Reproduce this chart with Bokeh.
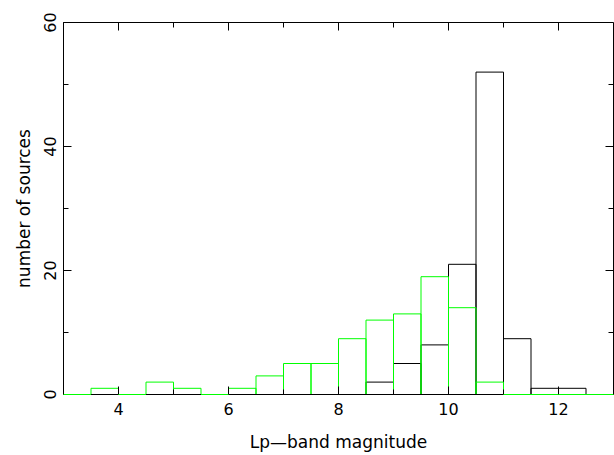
import math
from bokeh.plotting import figure
from bokeh.models import FixedTicker, Range1d, ColumnDataSource
from bokeh.embed import file_html
from bokeh.resources import INLINE

# Histogram data (bin width 0.5 mag)
bin_lo = [3.0, 3.5, 4.0, 4.5, 5.0, 5.5, 6.0, 6.5, 7.0, 7.5,
          8.0, 8.5, 9.0, 9.5, 10.0, 10.5, 11.0, 11.5, 12.0, 12.5]
bin_hi = [3.5, 4.0, 4.5, 5.0, 5.5, 6.0, 6.5, 7.0, 7.5, 8.0,
          8.5, 9.0, 9.5, 10.0, 10.5, 11.0, 11.5, 12.0, 12.5, 13.0]
black_counts = [0, 0, 0, 0, 0, 0, 0, 0, 0, 0,
                0, 2, 5, 8, 21, 52, 9, 1, 1, 0]
green_counts = [0, 1, 0, 2, 1, 0, 1, 3, 5, 5,
                9, 12, 13, 19, 14, 2, 0, 0, 0, 0]

x_lo, x_hi = 3, 13
y_lo, y_hi = 0, 60
x_major = [4, 6, 8, 10, 12]
x_minor = [3, 5, 7, 9, 11, 13]
y_major = [0, 20, 40, 60]
y_minor = [10, 30, 50]

FONT = "DejaVu Sans"
GREEN = "#00ff00"

p = figure(width=614, height=455, x_range=Range1d(x_lo, x_hi), y_range=Range1d(y_lo, y_hi),
           output_backend="svg", toolbar_location=None,
           min_border_left=63, min_border_right=1, min_border_top=22, min_border_bottom=61)
p.xgrid.visible = False
p.ygrid.visible = False
p.outline_line_color = "black"
p.outline_line_width = 1
p.background_fill_color = "white"
p.border_fill_color = "white"

xt = FixedTicker(ticks=x_major, minor_ticks=x_minor)
yt = FixedTicker(ticks=y_major, minor_ticks=y_minor)

def style_axis(ax):
    ax.axis_line_color = "black"
    ax.axis_line_width = 1
    ax.major_tick_in = 8
    ax.major_tick_out = 0
    ax.minor_tick_in = 5
    ax.minor_tick_out = 0
    ax.major_tick_line_color = "black"
    ax.minor_tick_line_color = "black"
    ax.major_label_text_font = FONT
    ax.major_label_text_color = "black"
    ax.axis_label_text_font = FONT
    ax.axis_label_text_font_style = "normal"
    ax.axis_label_text_color = "black"

xa = p.xaxis[0]
xa.ticker = xt
style_axis(xa)
xa.major_label_text_font_size = "16px"
xa.major_label_standoff = 8
xa.axis_label = "Lp—band magnitude"
xa.axis_label_text_font_size = "17px"
xa.axis_label_standoff = 14

ya = p.yaxis[0]
ya.ticker = yt
style_axis(ya)
ya.major_label_text_font_size = "16px"
ya.major_label_orientation = "vertical"
ya.major_label_standoff = 8
ya.axis_label = "number of sources"
ya.axis_label_text_font_size = "17px"
ya.axis_label_standoff = 7

# mirrored inward ticks on the top and right frame edges
p.ray(x=x_major, y=[y_hi] * len(x_major), length=8, length_units="screen",
      angle=-math.pi / 2, line_color="black", line_width=1)
p.ray(x=x_minor, y=[y_hi] * len(x_minor), length=5, length_units="screen",
      angle=-math.pi / 2, line_color="black", line_width=1)
p.ray(x=[x_hi] * len(y_major), y=y_major, length=8, length_units="screen",
      angle=math.pi, line_color="black", line_width=1)
p.ray(x=[x_hi] * len(y_minor), y=y_minor, length=5, length_units="screen",
      angle=math.pi, line_color="black", line_width=1)

def draw_hist(counts, color):
    nz = [i for i, c in enumerate(counts) if c > 0]
    z = [i for i, c in enumerate(counts) if c == 0]
    src = ColumnDataSource(dict(left=[bin_lo[i] for i in nz], right=[bin_hi[i] for i in nz],
                                top=[counts[i] for i in nz], bottom=[0] * len(nz)))
    p.quad(left="left", right="right", top="top", bottom="bottom", source=src,
           fill_alpha=0, line_color=color, line_width=1)
    seg = p.segment(x0=[bin_lo[i] for i in z], x1=[bin_hi[i] for i in z],
                    y0=[0] * len(z), y1=[0] * len(z), line_color=color, line_width=1)
    seg.level = "overlay"

draw_hist(black_counts, "black")
draw_hist(green_counts, GREEN)

open("out.html", "w").write(file_html(p, INLINE))
